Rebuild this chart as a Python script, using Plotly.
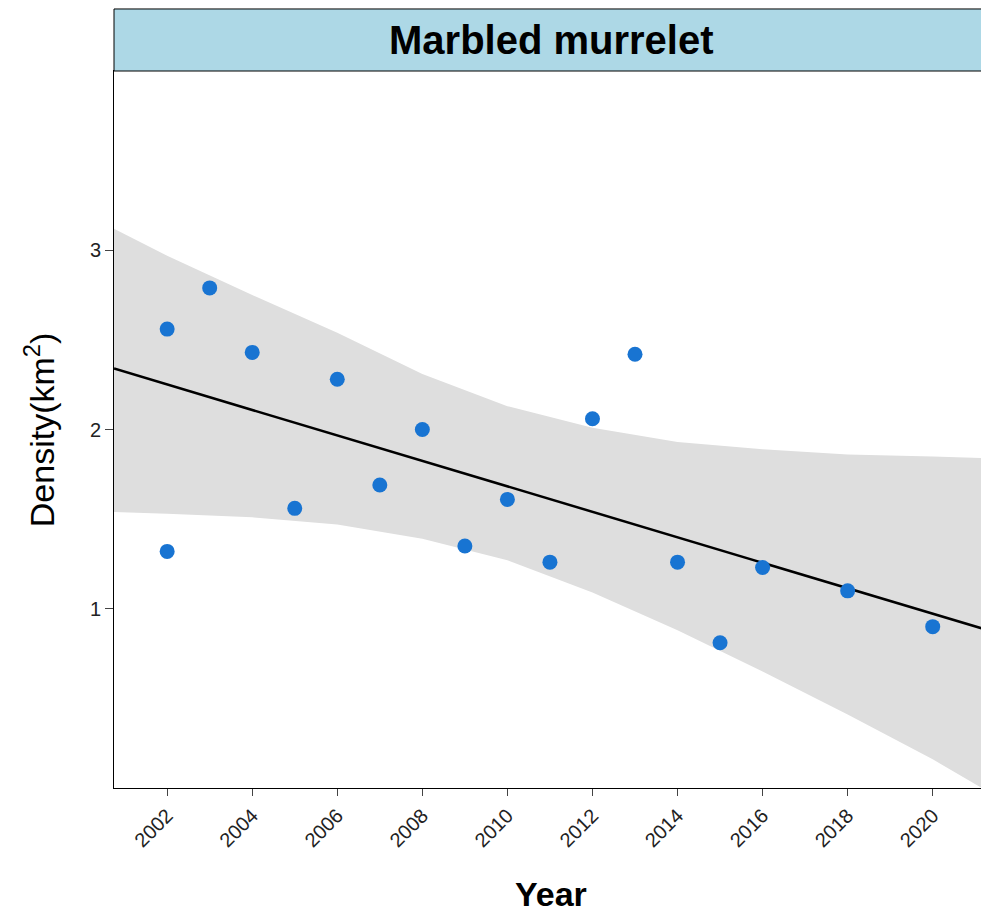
import plotly.graph_objects as go

years = [2002, 2002, 2003, 2004, 2005, 2006, 2007, 2008, 2009, 2010,
         2011, 2012, 2013, 2014, 2015, 2016, 2018, 2020]
density = [2.56, 1.32, 2.79, 2.43, 1.56, 2.28, 1.69, 2.00, 1.35, 1.61,
           1.26, 2.06, 2.42, 1.26, 0.81, 1.23, 1.10, 0.90]

# fitted trend line and its confidence band
band_x = [2000.75, 2002, 2004, 2006, 2008, 2010, 2012, 2014, 2016, 2018, 2020, 2021.3]
band_upper = [3.12, 2.97, 2.75, 2.54, 2.31, 2.13, 2.01, 1.93, 1.89, 1.86, 1.85, 1.84]
band_lower = [1.54, 1.53, 1.51, 1.47, 1.39, 1.27, 1.09, 0.88, 0.65, 0.41, 0.16, -0.02]
fit_x = [2000.75, 2021.3]
fit_y = [2.34, 0.88]

tick_years = list(range(2002, 2021, 2))
x_range = [2000.75, 2021.3]

fig = go.Figure()
fig.add_trace(go.Scatter(x=band_x + band_x[::-1], y=band_upper + band_lower[::-1],
                         mode="lines", fill="toself", fillcolor="#dedede",
                         line=dict(width=0), hoverinfo="skip", showlegend=False))
fig.add_trace(go.Scatter(x=fit_x, y=fit_y, mode="lines", line=dict(color="black", width=2.5),
                         showlegend=False))
fig.add_trace(go.Scatter(x=years, y=density, mode="markers",
                         marker=dict(color="#1874d2", size=15), showlegend=False))

fig.add_shape(type="rect", xref="paper", yref="paper", x0=0, x1=1, y0=1, y1=1.0865,
              fillcolor="#add8e6", line=dict(color="black", width=1))
fig.add_annotation(text="<b>Marbled murrelet</b>", xref="paper", yref="paper",
                   x=0.5, y=1.043, yanchor="middle", showarrow=False,
                   font=dict(size=40, color="black"))
fig.add_annotation(text="<b>Year</b>", xref="paper", yref="paper",
                   x=0.5, y=-0.148, yanchor="middle", showarrow=False,
                   font=dict(size=34, color="black"))
fig.add_annotation(text="Density(km<sup>2</sup>)", xref="paper", yref="paper",
                   x=-0.085, y=0.5, xanchor="center", yanchor="middle", textangle=-90,
                   showarrow=False, font=dict(size=34, color="black"))

fig.update_layout(
    width=982, height=904, plot_bgcolor="white", paper_bgcolor="white",
    margin=dict(l=106, r=2, t=63, b=124),
    font=dict(family="Liberation Sans", color="black"),
    xaxis=dict(range=x_range, tickvals=tick_years, tickangle=-45, ticks="outside",
               ticklen=7, showgrid=False, zeroline=False, showline=True, linecolor="black",
               mirror=True, tickfont=dict(size=20, color="#222"), automargin=False),
    yaxis=dict(range=[0, 4], tickvals=[1, 2, 3], ticks="outside", ticklen=8,
               showgrid=False, zeroline=False, showline=True, linecolor="black",
               mirror="ticks", tickfont=dict(size=20, color="#222"), automargin=False),
)
fig.write_html("out.html")
